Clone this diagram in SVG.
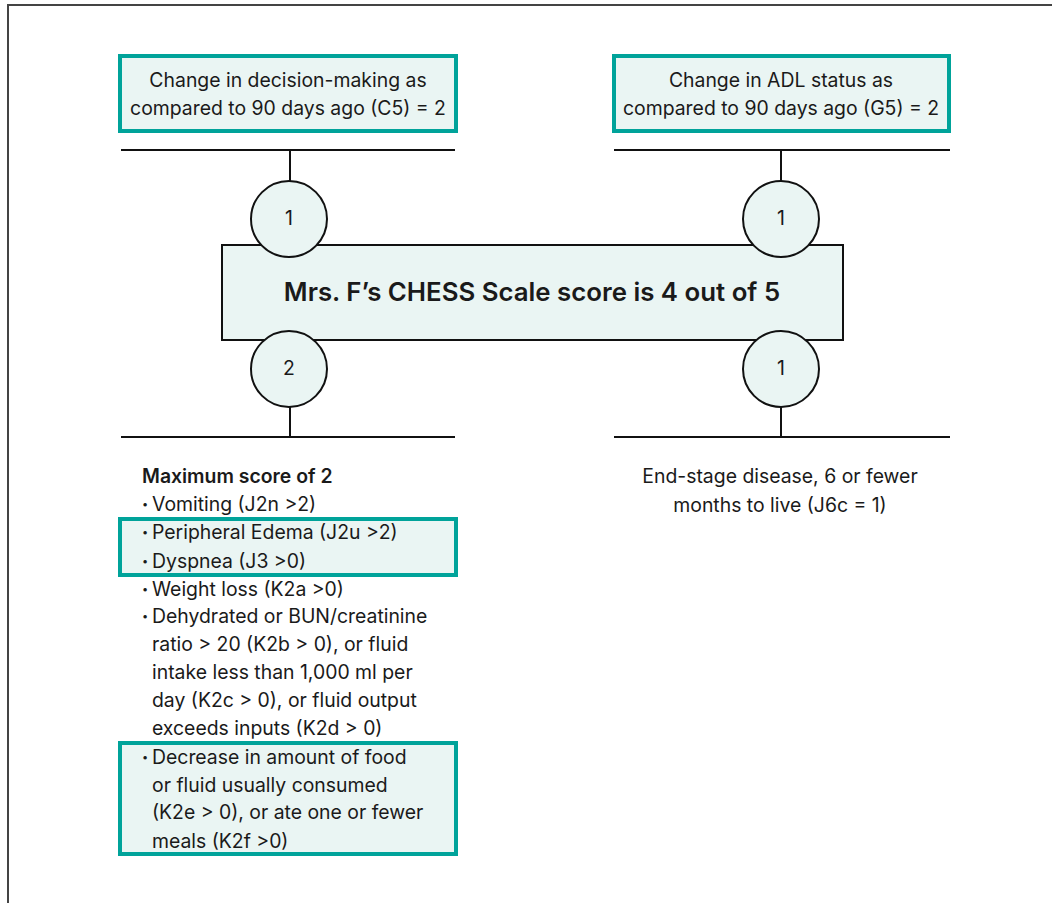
<svg xmlns="http://www.w3.org/2000/svg" width="1052" height="903" viewBox="0 0 1052 903">
<style>
  .t{font-family:Inter,"Liberation Sans",Arial,sans-serif;font-size:19.4px;fill:#1a1a1a}
  .c{text-anchor:middle}
  .b{font-weight:600}
  .d{font-family:Inter,"Liberation Sans",Arial,sans-serif;font-size:11px;fill:#1a1a1a}
  .hl{fill:#EAF5F3;stroke:#00A39A;stroke-width:4}
  .ln{stroke:#111;stroke-width:2;fill:none}
  .cir{fill:#EAF5F3;stroke:#111;stroke-width:2}
</style>
<rect width="1052" height="903" fill="#fff"/>
<path d="M8 903 V5 H1052" fill="none" stroke="#444" stroke-width="2"/>
<g id="connectors">
  <path class="ln" d="M121 150 H455 M290 150 V181"/>
  <path class="ln" d="M614 150 H950 M781 150 V181"/>
  <path class="ln" d="M121 437 H455 M290 407 V437"/>
  <path class="ln" d="M614 437 H950 M781 407 V437"/>
</g>
<g id="box-c5">
  <rect class="hl" x="120" y="56" width="336" height="75"/>
  <text class="t c" x="288" y="87">Change in decision-making as</text>
  <text class="t c" x="288" y="115">compared to 90 days ago (C5) = 2</text>
</g>
<g id="box-g5">
  <rect class="hl" x="614" y="56" width="335" height="75"/>
  <text class="t c" x="781" y="87">Change in ADL status as</text>
  <text class="t c" x="781" y="115">compared to 90 days ago (G5) = 2</text>
</g>
<g id="score-box">
  <rect x="222" y="245" width="621" height="95" fill="#EAF5F3" stroke="#111" stroke-width="2"/>
  <text class="t c b" x="532" y="301" style="font-size:25.8px">Mrs. F’s CHESS Scale score is 4 out of 5</text>
</g>
<g id="circle-tl"><circle class="cir" cx="289" cy="219" r="38"/><text class="t c" x="289" y="225">1</text></g>
<g id="circle-tr"><circle class="cir" cx="781" cy="219" r="38"/><text class="t c" x="781" y="225">1</text></g>
<g id="circle-bl"><circle class="cir" cx="289" cy="369" r="38"/><text class="t c" x="289" y="375">2</text></g>
<g id="circle-br"><circle class="cir" cx="781" cy="369" r="38"/><text class="t c" x="781" y="375">1</text></g>
<g id="symptoms">
  <rect class="hl" x="120" y="519" width="336" height="56"/>
  <rect class="hl" x="120" y="743" width="336" height="111"/>
  <text class="t b" x="142" y="483">Maximum score of 2</text>
  <text class="d" x="142" y="508">•</text><text class="t" x="152" y="511">Vomiting (J2n &gt;2)</text>
  <text class="d" x="142" y="536">•</text><text class="t" x="152" y="539">Peripheral Edema (J2u &gt;2)</text>
  <text class="d" x="142" y="565">•</text><text class="t" x="152" y="568">Dyspnea (J3 &gt;0)</text>
  <text class="d" x="142" y="593">•</text><text class="t" x="152" y="596">Weight loss (K2a &gt;0)</text>
  <text class="d" x="142" y="620">•</text><text class="t" x="152" y="623">Dehydrated or BUN/creatinine</text>
  <text class="t" x="152" y="651">ratio &gt; 20 (K2b &gt; 0), or fluid</text>
  <text class="t" x="152" y="679">intake less than 1,000 ml per</text>
  <text class="t" x="152" y="707">day (K2c &gt; 0), or fluid output</text>
  <text class="t" x="152" y="735">exceeds inputs (K2d &gt; 0)</text>
  <text class="d" x="142" y="761">•</text><text class="t" x="152" y="764">Decrease in amount of food</text>
  <text class="t" x="152" y="792">or fluid usually consumed</text>
  <text class="t" x="152" y="819">(K2e &gt; 0), or ate one or fewer</text>
  <text class="t" x="152" y="848">meals (K2f &gt;0)</text>
</g>
<g id="end-stage">
  <text class="t c" x="780" y="483">End-stage disease, 6 or fewer</text>
  <text class="t c" x="780" y="512">months to live (J6c = 1)</text>
</g>
</svg>
